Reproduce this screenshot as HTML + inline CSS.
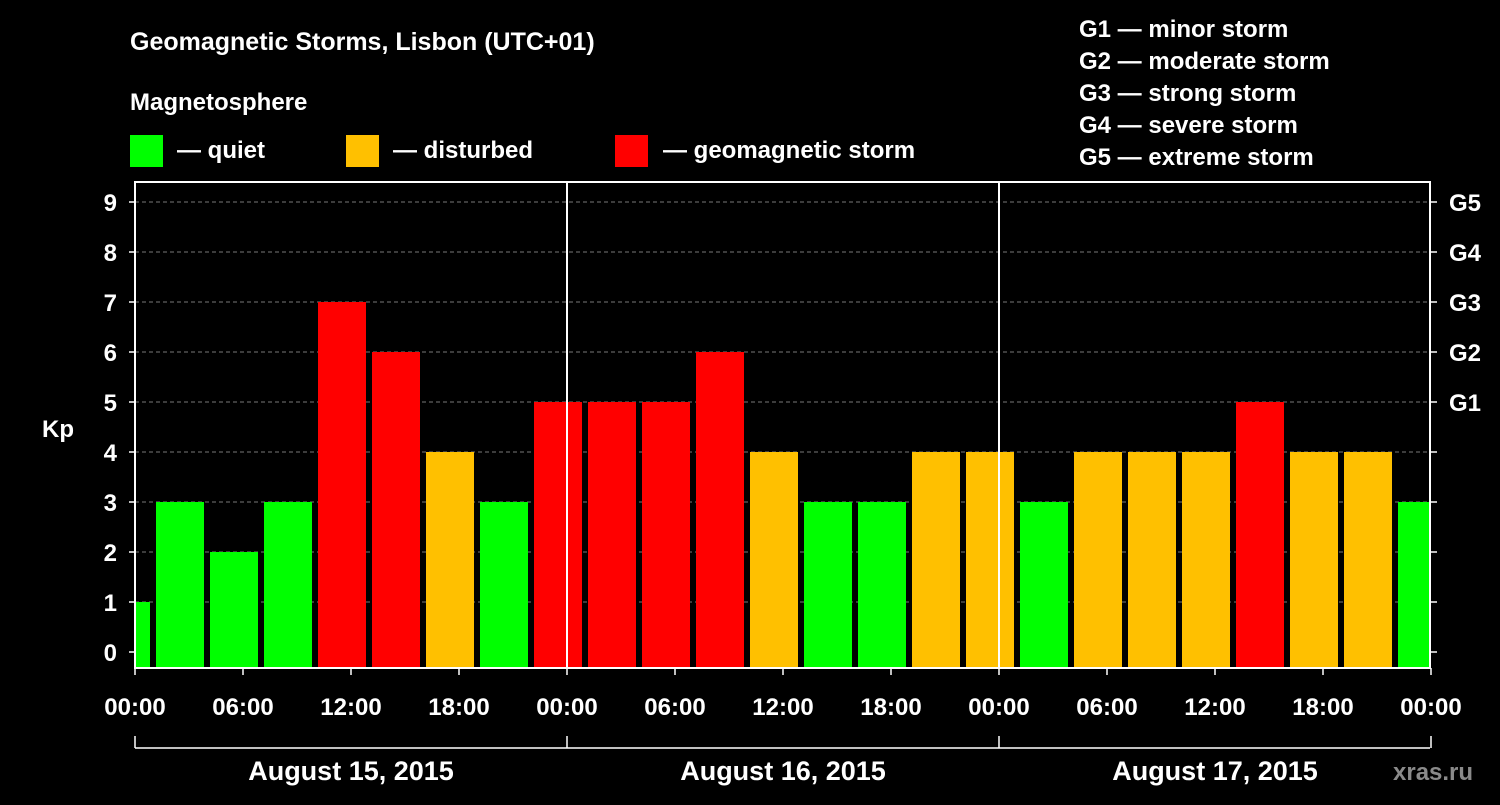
<!DOCTYPE html>
<html><head><meta charset="utf-8"><style>
body{margin:0;background:#000;width:1500px;height:800px;overflow:hidden;font-family:"Liberation Sans",sans-serif;}
svg text{font-family:"Liberation Sans",sans-serif;font-weight:bold;fill:#fff;}
</style></head><body>
<svg width="1500" height="800">
<text x="130" y="50" font-size="25">Geomagnetic Storms, Lisbon (UTC+01)</text>
<text x="130" y="110" font-size="24">Magnetosphere</text>
<g>
<rect x="130" y="135" width="33" height="32" fill="#00ff00"/>
<text x="177" y="158" font-size="24">— quiet</text>
<rect x="346" y="135" width="33" height="32" fill="#ffc000"/>
<text x="393" y="158" font-size="24">— disturbed</text>
<rect x="615" y="135" width="33" height="32" fill="#ff0000"/>
<text x="663" y="158" font-size="24">— geomagnetic storm</text>
</g>
<g font-size="24">
<text x="1079" y="37">G1 — minor storm</text>
<text x="1079" y="69">G2 — moderate storm</text>
<text x="1079" y="101">G3 — strong storm</text>
<text x="1079" y="133">G4 — severe storm</text>
<text x="1079" y="165">G5 — extreme storm</text>
</g>
<text x="42" y="437" font-size="24">Kp</text>
<g id="plot"></g>
<text x="1393" y="780" font-size="24" fill="#888" style="fill:#8a8a8a">xras.ru</text>
</svg>
<script>
const kpValues=[1,3,2,3,7,6,4,3,5,5,5,6,4,3,3,4,4,3,4,4,4,5,4,4,3];
const yTicks=[0,1,2,3,4,5,6,7,8,9];
const gLabels=["","","","","","G1","G2","G3","G4","G5"];
const xLabels=["00:00","06:00","12:00","18:00","00:00","06:00","12:00","18:00","00:00","06:00","12:00","18:00","00:00"];
const dayLabels=["August 15, 2015","August 16, 2015","August 17, 2015"];
const X0=135,X1=1430,PT=182,PB=668;
const hx=h=>X0+h*18;
const ky=k=>652-50*k;
const NS="http://www.w3.org/2000/svg";
const plot=document.getElementById('plot');
function el(t,a){const e=document.createElementNS(NS,t);for(const k in a)e.setAttribute(k,a[k]);plot.appendChild(e);return e;}
yTicks.forEach((k,i)=>{
 if(k>0){const g=el('line',{x1:X0,x2:X1,y1:ky(k),y2:ky(k),stroke:'#777','stroke-dasharray':'4,3'});
 
 }
 const t=el('text',{x:117,y:ky(k)+9,'font-size':24,'text-anchor':'end'});t.textContent=k;
 
 
 el('line',{x1:X0-6,x2:X0,y1:ky(k),y2:ky(k),stroke:'#fff','stroke-width':1.5});
 el('line',{x1:X1,x2:X1+7,y1:ky(k),y2:ky(k),stroke:'#fff','stroke-width':1.5});
 if(gLabels[i]){const g2=el('text',{x:1449,y:ky(k)+9,'font-size':24});g2.textContent=gLabels[i];
 
 }
});
kpValues.forEach((v,i)=>{
 const start=1+3*(i-1);
 let x=hx(start)+3, w=48;
 if(x<X0+1){w-= (X0+1-x);x=X0+1;}
 if(x+w>X1-1)w=X1-1-x;
 const c=v>=5?'#ff0000':(v>=4?'#ffc000':'#00ff00');
 const r=el('rect',{x:x,y:ky(v),width:w,height:PB-ky(v),fill:c});
 
 
});
[24,48].forEach(h=>el('line',{x1:hx(h),x2:hx(h),y1:PT,y2:PB,stroke:'#fff','stroke-width':2}));
const b=el('rect',{x:X0,y:PT,width:X1-X0,height:PB-PT,fill:'none',stroke:'#fff','stroke-width':2});


xLabels.forEach((l,i)=>{
 el('line',{x1:hx(i*6),x2:hx(i*6),y1:PB,y2:PB+7,stroke:'#fff','stroke-width':1.5});
 const t=el('text',{x:hx(i*6),y:715,'font-size':24,'text-anchor':'middle'});t.textContent=l;
 
 
});
el('line',{x1:X0,x2:X1,y1:748,y2:748,stroke:'#fff','stroke-width':1.5});
[0,24,48,72].forEach(h=>el('line',{x1:hx(h),x2:hx(h),y1:736,y2:748,stroke:'#fff','stroke-width':1.5}));
dayLabels.forEach((d,i)=>{
 const t=el('text',{x:hx(i*24+12),y:780,'font-size':27,'text-anchor':'middle'});t.textContent=d;
 
 
});
</script>
</body></html>
